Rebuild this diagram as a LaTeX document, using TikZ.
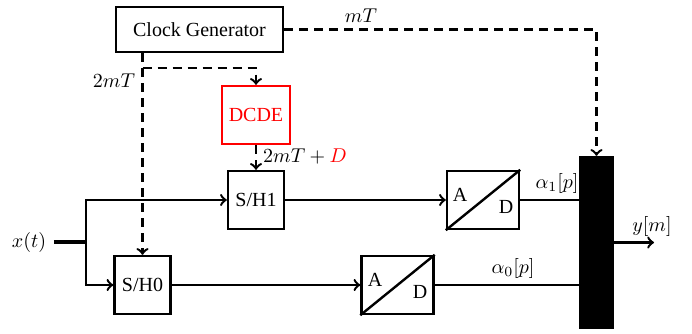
\documentclass[tikz,border=0pt]{standalone}
\usepackage{fontspec}
\setmainfont{Liberation Serif}
\usetikzlibrary{calc}
\begin{document}
\begin{tikzpicture}[x=0.5pt,y=-0.5pt,
  line width=1.2pt,
  blk/.style={draw,line width=1.2pt,minimum width=#1,minimum height=29pt,inner sep=0pt},
  blk/.default=28pt,
  clk/.style={dashed,dash pattern=on 4.5pt off 3pt},
  lbl/.style={inner sep=0pt},
  ar/.style={->}
]
\useasboundingbox (0,0) rectangle (692,333);
% blocks
\node[blk=83.5pt,minimum height=22.5pt] (cg) at (199.5,29.5) {Clock Generator};
\node[blk=34pt,draw=red,text=red] (dcde) at (256,115) {DCDE};
\node[blk] (sh1) at (256,200) {S/H1};
\node[blk] (sh0) at (142.5,285) {S/H0};
\node[blk=36pt] (ad1) at (483,200) {};
\node[blk=36pt] (ad0) at (397.5,285) {};
\draw (ad1.south west) -- (ad1.north east);
\draw (ad0.south west) -- (ad0.north east);
\node[lbl] (a1) at (460,195) {A};
\node[lbl] (d1) at (506,207) {D};
\node[lbl] (a0) at (375,280) {A};
\node[lbl] (d0) at (420,292) {D};
\node[fill=black,draw=black,minimum width=16.5pt,minimum height=85.5pt,inner sep=0pt] (mux) at (596.5,242.5) {};
% labels
\node[lbl] (lmt) at (361,16) {$mT$};
\node[lbl] (l2mt) at (114,81) {$2mT$};
\node[lbl,anchor=west] (l2mtd) at (262,156) {$2mT+\textcolor{red}{D}$};
\node[lbl] (la1) at (557,183) {$\alpha_1[p]$};
\node[lbl] (la0) at (513,268) {$\alpha_0[p]$};
\node[lbl] (lym) at (652,226) {$y[m]$};
\node (xt) at (29,242) {$x(t)$};
% coordinates
\coordinate (split) at (86,242);
\coordinate (br) at (142.5,68);
\coordinate (yout) at (654,242.5);
% clock connectors
\draw[clk,ar] (cg.east) -| (mux.north);
\draw[clk,ar] (sh0.north |- cg.south) -- (sh0.north);
\draw[clk,ar] (br) -| (dcde.north);
\draw[clk,ar] (dcde.south) -- (sh1.north);
% signal path
\draw[line width=1.6pt] (xt.east) -- (split);
\draw[ar] (split) |- (sh1.west);
\draw[ar] (split) |- (sh0.west);
\draw[ar] (sh1.east) -- (ad1.west);
\draw[ar] (sh0.east) -- (ad0.west);
\draw (ad1.east) -- (mux.west |- ad1.east);
\draw (ad0.east) -- (mux.west |- ad0.east);
\draw[ar] (mux.east |- yout) -- (yout);
\end{tikzpicture}
\end{document}
